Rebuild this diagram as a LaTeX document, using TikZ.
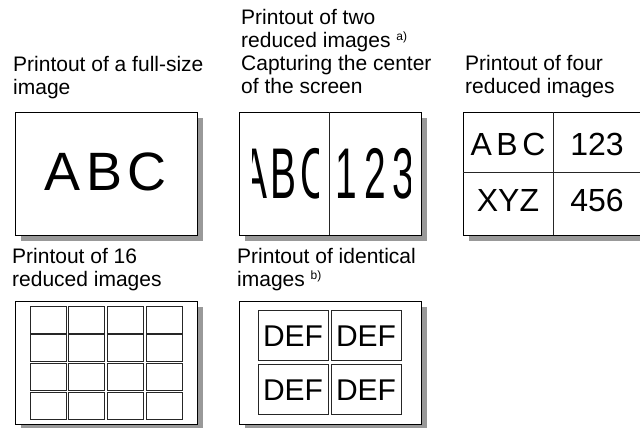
\documentclass[tikz,border=0pt]{standalone}
\usepackage{fontspec}
\setmainfont{Liberation Sans}
\newcommand{\fnmark}[1]{\raisebox{7pt}{\fontsize{12}{12}\selectfont #1}}

\begin{document}
\begin{tikzpicture}[x=1pt,y=-1pt,
    sheet/.style={draw=black,line width=0.8pt,fill=white},
    sheetshadow/.style={fill=black!40,draw=none},
    heading/.style={anchor=north west,inner sep=0pt,align=left,
      font=\fontsize{21}{23}\selectfont},
    cell/.style={draw=black!85,line width=0.6pt},
    big/.style={inner sep=0pt,font=\fontsize{54}{54}\selectfont}]
  \useasboundingbox (0,0) rectangle (640,428);
  % captions
  \node[heading] (L1) at (13,56.5) {Printout of a full-size\\image};
  \node[heading] (L2) at (241,9.5) {Printout of two\\reduced images \fnmark{a)}\\Capturing the center\\of the screen};
  \node[heading] (L3) at (465,55.5) {Printout of four\\reduced images};
  \node[heading] (L4) at (12,248.5) {Printout of 16\\reduced images};
  \node[heading] (L5) at (237,248.5) {Printout of identical\\images \fnmark{b)}};
  % sheets with shadow
  \foreach \x/\y in {15/112,239/112,463/112,15/301,239/301} {
    \fill[sheetshadow] (\x+6,\y+6) rectangle +(182,123);
    \draw[sheet] (\x,\y) rectangle +(182,123);
  }
  % full-size
  \node[big] (abc) at (106,172) {A\kern5.5pt B\kern5.5pt C};
  % two reduced, center captured
  \draw[cell] (329,112) -- (329,235);
  \begin{scope}
    \clip (252,113) rectangle (318,234);
    \node[big,xscale=0.72,yscale=1.33] (abc2) at (285,174) {A\kern5.5pt B\kern5.5pt C};
  \end{scope}
  \begin{scope}
    \clip (335,113) rectangle (410,234);
    \node[big,xscale=0.72,yscale=1.33] (num2) at (375,174) {1\kern10pt 2\kern10pt 3};
  \end{scope}
  % four reduced
  \draw[cell] (553,112) -- (553,235) (463,172) -- (645,172);
  \node[inner sep=0pt,font=\fontsize{32}{32}\selectfont] (abc4) at (508,144) {A\kern4.5pt B\kern4.5pt C};
  \node[inner sep=0pt,font=\fontsize{32}{32}\selectfont] (num4) at (597,144) {123};
  \node[inner sep=0pt,font=\fontsize{32}{32}\selectfont] (xyz4) at (508,200) {XYZ};
  \node[inner sep=0pt,font=\fontsize{32}{32}\selectfont] (dig4) at (597,200) {456};
  % sixteen reduced
  \foreach \i in {0,...,3}
    \foreach \j in {0,...,3}
      \draw[cell] (30+\i*38.7,306+\j*28.7) rectangle +(36,27);
  % identical images
  \foreach \i in {0,1}
    \foreach \j in {0,1} {
      \draw[cell] (258+\i*73,310+\j*54) rectangle +(70,50);
      \node[inner sep=0pt,font=\fontsize{30}{30}\selectfont] (def\i\j) at (293+\i*73,336+\j*54) {DEF};
    }
\end{tikzpicture}
\end{document}
